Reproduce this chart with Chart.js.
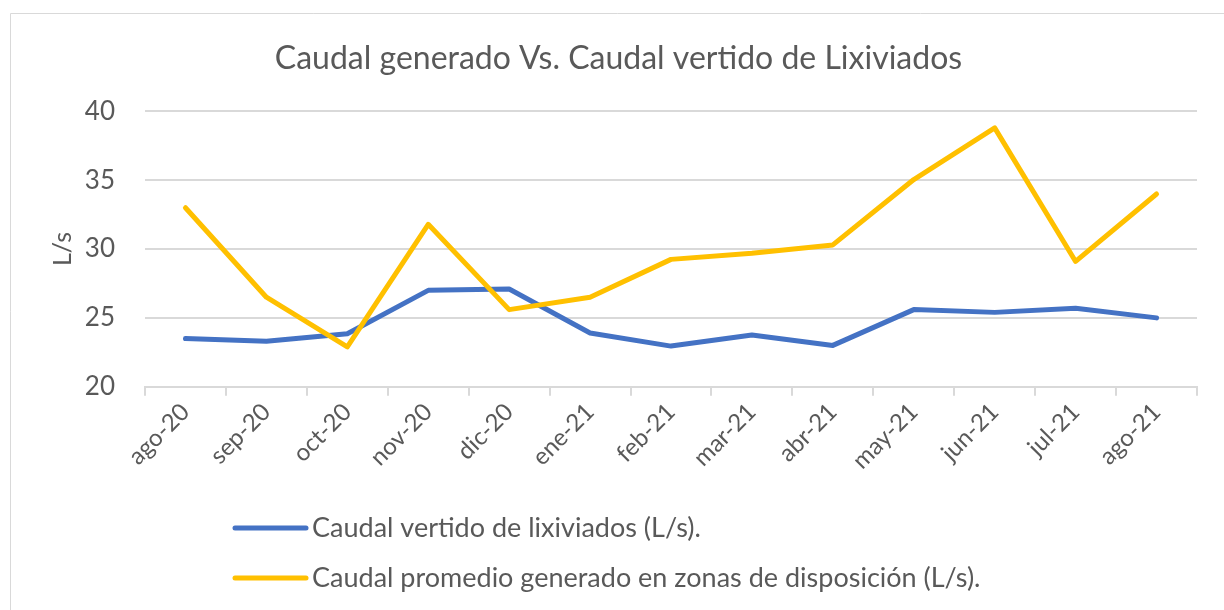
<!DOCTYPE html>
<html lang="es">
<head>
<meta charset="utf-8">
<title>Caudal generado Vs. Caudal vertido de Lixiviados</title>
<script src="https://cdn.jsdelivr.net/npm/chart.js@4.4.1/dist/chart.umd.min.js"></script>
<style>
  html, body { margin: 0; padding: 0; background: #ffffff; }
  #chart { display: block; }
</style>
</head>
<body>
<canvas id="chart" width="1224" height="610"></canvas>
<script>
// ── Data ─────────────────────────────────────────────────────────────────────

const MONTHS = ['ago-20', 'sep-20', 'oct-20', 'nov-20', 'dic-20', 'ene-21', 'feb-21',
                'mar-21', 'abr-21', 'may-21', 'jun-21', 'jul-21', 'ago-21'];

const VERTIDO  = [23.5, 23.3, 23.85, 27.0, 27.1, 23.9, 22.95, 23.75, 23.0, 25.6, 25.4, 25.7, 25.0];
const GENERADO = [33.0, 26.5, 22.9, 31.8, 25.6, 26.5, 29.25, 29.7, 30.3, 35.05, 38.8, 29.1, 34.0];

const SERIES_LABELS = [
  'Caudal vertido de lixiviados (L/s).',
  'Caudal promedio generado en zonas de disposición (L/s).',
];

const Y_MIN = 20, Y_MAX = 40, Y_STEP = 5;

// ── Style ────────────────────────────────────────────────────────────────────

const FONT  = "Lato, 'Open Sans', sans-serif";
const TEXT  = '#595959';
const GRID  = '#d9d9d9';
const BLUE  = '#4472c4';
const GOLD  = '#ffc000';

// Light frame around the chart (left + top edges visible in the picture)
const framePlugin = {
  id: 'frame',
  beforeDraw(chart) {
    const { ctx } = chart;
    ctx.save();
    ctx.strokeStyle = GRID;
    ctx.lineWidth = 1;
    ctx.beginPath();
    ctx.moveTo(10.5, chart.height);
    ctx.lineTo(10.5, 13.5);
    ctx.lineTo(chart.width, 13.5);
    ctx.stroke();
    ctx.restore();
  }
};

// Vertical legend under the axis, one row per series
const stackedLegendPlugin = {
  id: 'stackedLegend',
  afterDraw(chart) {
    const { ctx } = chart;
    const x0 = 235, x1 = 306, tx = 312;
    const rows = [528, 578];
    ctx.save();
    chart.data.datasets.forEach((ds, i) => {
      const y = rows[i];
      ctx.strokeStyle = ds.borderColor;
      ctx.lineWidth = 5;
      ctx.lineCap = 'round';
      ctx.beginPath();
      ctx.moveTo(x0, y);
      ctx.lineTo(x1, y);
      ctx.stroke();
      ctx.fillStyle = TEXT;
      ctx.font = `27px ${FONT}`;
      ctx.textBaseline = 'middle';
      ctx.textAlign = 'left';
      ctx.fillText(ds.label, tx, y);
    });
    ctx.restore();
  }
};

new Chart(document.getElementById('chart'), {
  type: 'line',
  data: {
    labels: MONTHS,
    datasets: [
      {
        label: SERIES_LABELS[0],
        data: VERTIDO,
        borderColor: BLUE,
        backgroundColor: BLUE,
        borderWidth: 5,
        borderCapStyle: 'round',
        borderJoinStyle: 'round',
        pointRadius: 0,
        tension: 0,
        order: 1,
      },
      {
        label: SERIES_LABELS[1],
        data: GENERADO,
        borderColor: GOLD,
        backgroundColor: GOLD,
        borderWidth: 5,
        borderCapStyle: 'round',
        borderJoinStyle: 'round',
        pointRadius: 0,
        tension: 0,
        order: 0,
      },
    ],
  },
  options: {
    responsive: false,
    animation: false,
    layout: { padding: { left: 40, right: 27, top: 13, bottom: 133 } },
    plugins: {
      legend: { display: false },
      tooltip: { enabled: false },
      title: {
        display: true,
        text: 'Caudal generado Vs. Caudal vertido de Lixiviados',
        color: TEXT,
        font: { family: FONT, size: 32, weight: 'normal' },
        padding: { top: 26, bottom: 34 },
      },
    },
    scales: {
      x: {
        offset: true,
        afterFit: (scale) => { scale.paddingLeft = 0; scale.paddingRight = 0; },
        grid: {
          offset: true,
          drawOnChartArea: false,
          drawTicks: true,
          tickLength: 9,
          tickColor: GRID,
          lineWidth: 2,
        },
        border: { display: true, color: GRID, width: 2 },
        ticks: {
          color: TEXT,
          font: { family: FONT, size: 24 },
          minRotation: 45,
          maxRotation: 45,
          autoSkip: false,
          padding: 2,
        },
      },
      y: {
        min: Y_MIN,
        max: Y_MAX,
        afterFit: (scale) => { scale.width = 105; },
        ticks: {
          stepSize: Y_STEP,
          color: TEXT,
          font: { family: FONT, size: 26 },
          padding: 30,
        },
        grid: { color: GRID, lineWidth: 2, drawTicks: false },
        border: { display: false },
        title: {
          display: true,
          text: 'L/s',
          color: TEXT,
          font: { family: FONT, size: 25 },
          padding: { top: 8, bottom: 0 },
        },
      },
    },
  },
  plugins: [framePlugin, stackedLegendPlugin],
});
</script>
</body>
</html>
